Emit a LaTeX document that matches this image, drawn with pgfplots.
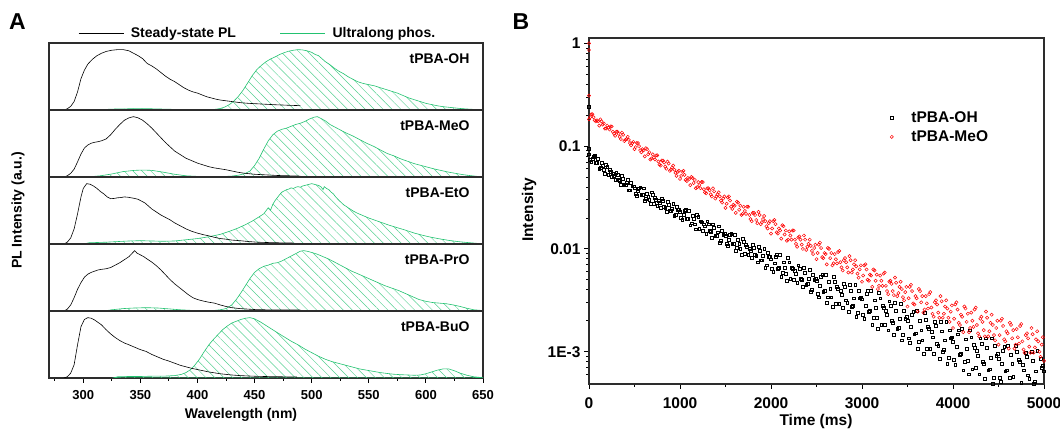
\documentclass[border=0pt]{standalone}
\usepackage{fontspec}
\setmainfont{Liberation Sans}
\usepackage{pgfplots}
\pgfplotsset{compat=1.18}
\usetikzlibrary{patterns.meta}
\definecolor{phos}{RGB}{34,194,112}
\definecolor{phoshatch}{RGB}{85,208,145}
\definecolor{frame}{RGB}{45,45,45}
\newcommand{\lf}{\fontsize{14}{16}\selectfont\bfseries}
\newcommand{\rf}{\fontsize{15.5}{18}\selectfont\bfseries}
\tikzset{plab/.style={anchor=east, font=\lf}}
\pgfplotsset{
  apanel/.style={
    scale only axis, width=434pt, height=67pt, anchor=south west,
    xmin=270, xmax=650, ymin=0, ymax=1.11,
    axis line style={line width=1.1pt, frame},
    xtick=\empty, ytick=\empty,
  },
  bl/.style={black, line width=0.6pt, forget plot},
  gr/.style={draw=phos, line width=0.6pt, pattern={Lines[angle=-45,distance=6.3pt,line width=0.45pt]}, pattern color=phoshatch, forget plot},
  bsq/.style={only marks, mark=square, mark size=1.4pt, black, mark options={line width=0.5pt}},
  rci/.style={only marks, mark=o, mark size=1.6pt, red, mark options={line width=0.5pt}},
}
\begin{document}
\begin{tikzpicture}
\path[use as bounding box] (0,0) rectangle (1060pt,430pt);
% ---------------- Panel A ----------------
\begin{axis}[apanel, at={(49pt,320pt)},
  legend columns=2,
  legend style={at={(0.067,1.0)}, anchor=south west, draw=none, fill=none, inner sep=0pt, yshift=2pt, font=\lf,
    /tikz/every even column/.append style={column sep=42pt},
    /tikz/every odd column/.append style={column sep=5pt}},
  legend image code/.code={\draw[#1] (0pt,0pt) -- (45pt,0pt);}]
\addlegendimage{black, line width=0.6pt}
\addlegendentry{Steady-state PL}
\addlegendimage{phos, line width=0.6pt}
\addlegendentry{Ultralong phos.}
\addplot[gr] coordinates {(313,0)(320,0.01)(330,0.018)(340,0.02)(350,0.022)(360,0.02)(370,0.015)(380,0.01)(390,0.006)(400,0.004)(410,0.006)(416,0.012)(420,0.025)(424,0.05)(428,0.09)(432,0.15)(436,0.23)(440,0.33)(444,0.45)(448,0.57)(452,0.67)(456,0.74)(460,0.8)(464,0.845)(468,0.88)(472,0.92)(476,0.95)(480,0.975)(484,0.99)(488,1.0)(492,0.995)(496,0.98)(500,0.955)(503,0.92)(506,0.9)(509,0.85)(512,0.8)(516,0.75)(520,0.69)(524,0.64)(528,0.6)(532,0.55)(536,0.51)(540,0.47)(545,0.44)(550,0.42)(555,0.4)(560,0.37)(565,0.34)(570,0.31)(575,0.28)(580,0.24)(585,0.2)(590,0.17)(595,0.14)(600,0.11)(605,0.09)(610,0.07)(615,0.055)(620,0.045)(625,0.035)(630,0.025)(635,0.018)(640,0.012)(645,0.008)(650,0.005)} \closedcycle;
\addplot[bl] coordinates {(283,0)(286,0.02)(289,0.06)(292,0.14)(295,0.3)(298,0.52)(301,0.66)(304,0.76)(308,0.84)(312,0.9)(316,0.94)(320,0.97)(325,0.99)(330,1.0)(335,1.0)(340,0.98)(344,0.94)(348,0.9)(352,0.85)(356,0.77)(360,0.73)(364,0.68)(368,0.62)(372,0.56)(376,0.51)(380,0.47)(384,0.42)(388,0.37)(392,0.33)(396,0.3)(400,0.28)(404,0.25)(408,0.22)(412,0.2)(416,0.18)(420,0.165)(424,0.155)(428,0.145)(432,0.135)(436,0.125)(440,0.117)(445,0.11)(450,0.105)(455,0.1)(460,0.095)(465,0.09)(470,0.085)(475,0.082)(480,0.078)(485,0.075)(490,0.072)};
\node[plab] at (rel axis cs:0.977,0.76) {tPBA-OH};
\end{axis}
\begin{axis}[apanel, at={(49pt,253pt)}]
\addplot[gr] coordinates {(303,0)(315,0.02)(325,0.05)(335,0.09)(345,0.11)(352,0.115)(360,0.11)(370,0.08)(380,0.045)(390,0.02)(400,0.01)(410,0.005)(420,0.005)(430,0.015)(436,0.03)(442,0.06)(446,0.1)(450,0.19)(454,0.31)(458,0.46)(462,0.6)(466,0.7)(470,0.76)(474,0.79)(478,0.81)(482,0.84)(486,0.87)(490,0.89)(494,0.92)(498,0.96)(502,0.99)(505,1.0)(508,0.97)(512,0.93)(516,0.87)(520,0.83)(525,0.78)(530,0.73)(536,0.68)(542,0.62)(548,0.56)(554,0.51)(560,0.45)(566,0.39)(572,0.35)(578,0.3)(584,0.26)(590,0.22)(596,0.19)(602,0.16)(608,0.13)(614,0.105)(620,0.08)(626,0.06)(632,0.04)(638,0.025)(644,0.012)(650,0.005)} \closedcycle;
\addplot[bl] coordinates {(283,0)(286,0.02)(289,0.06)(292,0.13)(295,0.25)(298,0.38)(301,0.48)(304,0.53)(307,0.56)(310,0.575)(313,0.585)(316,0.6)(320,0.63)(324,0.7)(328,0.79)(332,0.87)(336,0.94)(340,0.98)(344,1.0)(348,0.98)(352,0.94)(356,0.88)(360,0.81)(364,0.73)(368,0.65)(372,0.57)(376,0.5)(380,0.43)(385,0.37)(390,0.31)(395,0.27)(400,0.23)(405,0.2)(410,0.17)(415,0.15)(420,0.135)(425,0.12)(430,0.1)(435,0.08)(440,0.065)(445,0.055)(450,0.045)(460,0.035)(470,0.025)(480,0.02)(490,0.015)};
\node[plab] at (rel axis cs:0.977,0.76) {tPBA-MeO};
\end{axis}
\begin{axis}[apanel, at={(49pt,186pt)}]
\addplot[gr] coordinates {(300,0)(305,0.02)(320,0.03)(330,0.04)(340,0.05)(350,0.055)(360,0.05)(370,0.045)(380,0.05)(390,0.07)(400,0.09)(410,0.12)(420,0.16)(428,0.21)(435,0.26)(442,0.32)(448,0.38)(454,0.45)(458,0.5)(462,0.6)(464,0.56)(466,0.66)(468,0.72)(470,0.77)(472,0.82)(474,0.86)(476,0.88)(478,0.9)(480,0.91)(482,0.93)(484,0.92)(486,0.94)(488,0.95)(490,0.94)(492,0.96)(494,0.97)(496,0.98)(498,0.99)(500,1.0)(502,0.99)(504,0.98)(506,0.97)(508,0.95)(510,0.9)(511,0.95)(513,0.92)(515,0.9)(517,0.86)(519,0.83)(521,0.78)(524,0.72)(528,0.65)(532,0.6)(536,0.55)(540,0.51)(545,0.47)(550,0.43)(556,0.39)(562,0.35)(568,0.31)(575,0.27)(582,0.23)(590,0.18)(598,0.14)(605,0.11)(612,0.085)(620,0.06)(628,0.04)(636,0.025)(644,0.012)(650,0.006)} \closedcycle;
\addplot[bl] coordinates {(283,0)(286,0.03)(289,0.1)(292,0.25)(295,0.5)(298,0.78)(300,0.92)(303,1.0)(306,0.99)(309,0.96)(312,0.92)(315,0.87)(318,0.83)(321,0.78)(324,0.75)(327,0.755)(330,0.765)(333,0.77)(336,0.78)(339,0.775)(342,0.765)(345,0.755)(348,0.74)(351,0.71)(354,0.68)(357,0.63)(360,0.58)(364,0.53)(368,0.48)(372,0.44)(376,0.4)(380,0.35)(385,0.3)(390,0.25)(395,0.21)(400,0.18)(405,0.155)(410,0.135)(415,0.11)(420,0.09)(425,0.08)(430,0.065)(437,0.055)(445,0.04)(452,0.03)(460,0.025)(470,0.02)(484,0.017)};
\node[plab] at (rel axis cs:0.977,0.76) {tPBA-EtO};
\end{axis}
\begin{axis}[apanel, at={(49pt,119pt)}]
\addplot[gr] coordinates {(318,0)(325,0.02)(335,0.04)(345,0.05)(355,0.055)(365,0.05)(375,0.035)(385,0.02)(395,0.01)(405,0.008)(415,0.01)(420,0.02)(425,0.04)(430,0.1)(434,0.19)(438,0.3)(442,0.42)(446,0.54)(450,0.64)(454,0.7)(458,0.74)(462,0.76)(466,0.79)(470,0.8)(474,0.83)(478,0.87)(482,0.91)(486,0.95)(490,0.99)(493,1.0)(496,0.99)(500,0.97)(505,0.94)(510,0.9)(515,0.86)(520,0.81)(525,0.76)(530,0.71)(535,0.66)(540,0.62)(546,0.57)(552,0.52)(558,0.47)(564,0.42)(570,0.38)(576,0.34)(582,0.29)(588,0.24)(594,0.19)(600,0.16)(606,0.14)(612,0.13)(618,0.12)(624,0.1)(630,0.075)(636,0.045)(642,0.02)(650,0.008)} \closedcycle;
\addplot[bl] coordinates {(283,0)(286,0.03)(289,0.1)(292,0.22)(295,0.36)(298,0.47)(301,0.56)(304,0.61)(307,0.64)(310,0.66)(313,0.68)(316,0.69)(320,0.7)(324,0.72)(328,0.76)(332,0.8)(336,0.85)(340,0.9)(343,0.96)(345,1.0)(347,0.96)(350,0.93)(353,0.9)(356,0.86)(360,0.81)(364,0.75)(368,0.68)(372,0.6)(376,0.52)(380,0.45)(384,0.39)(388,0.33)(392,0.27)(396,0.22)(400,0.19)(405,0.165)(410,0.145)(415,0.13)(420,0.1)(425,0.075)(430,0.055)(437,0.04)(445,0.03)(452,0.022)(465,0.018)(490,0.017)};
\node[plab] at (rel axis cs:0.977,0.76) {tPBA-PrO};
\end{axis}
\begin{axis}[apanel, at={(49pt,52pt)},
  xtick={300,350,...,650}, minor xtick={275,325,...,625},
  tick align=outside, xtick pos=left,
  major tick length=5pt, minor tick length=3pt,
  every tick/.style={black, line width=0.9pt},
  /pgf/number format/assume math mode=true,
  tick label style={font=\fontsize{13}{15}\selectfont\bfseries},
  xticklabel style={yshift=-4pt}]
\addplot[gr] coordinates {(326,0)(330,0.02)(340,0.025)(350,0.025)(360,0.03)(370,0.03)(380,0.04)(386,0.06)(390,0.09)(394,0.14)(398,0.22)(402,0.32)(406,0.44)(410,0.55)(414,0.64)(418,0.72)(422,0.8)(426,0.86)(430,0.91)(434,0.94)(438,0.97)(442,0.99)(446,1.0)(450,0.98)(455,0.93)(460,0.87)(465,0.81)(470,0.75)(476,0.68)(482,0.61)(488,0.55)(494,0.48)(500,0.42)(506,0.36)(512,0.31)(518,0.27)(524,0.24)(530,0.21)(536,0.18)(542,0.15)(548,0.13)(554,0.11)(560,0.09)(566,0.075)(572,0.062)(578,0.055)(584,0.05)(590,0.045)(595,0.05)(600,0.07)(605,0.1)(610,0.13)(615,0.15)(620,0.15)(625,0.12)(630,0.08)(636,0.045)(642,0.02)(650,0.005)} \closedcycle;
\addplot[bl] coordinates {(283,0)(286,0.02)(289,0.08)(292,0.22)(295,0.55)(298,0.85)(301,0.97)(304,1.0)(307,0.99)(310,0.96)(313,0.92)(316,0.88)(320,0.8)(324,0.73)(328,0.67)(332,0.62)(336,0.58)(340,0.55)(345,0.51)(350,0.47)(355,0.44)(360,0.39)(365,0.35)(370,0.31)(375,0.28)(380,0.245)(385,0.21)(390,0.185)(395,0.16)(400,0.14)(405,0.12)(410,0.1)(415,0.085)(420,0.07)(425,0.06)(430,0.05)(437,0.04)(445,0.033)(452,0.028)(465,0.022)(487,0.017)};
\node[plab] at (rel axis cs:0.977,0.76) {tPBA-BuO};
\end{axis}
\node[rotate=90, font=\lf] at (18pt,219.5pt) {PL Intensity (a.u.)};
\node[font=\lf] at (241pt,15pt) {Wavelength (nm)};
\node[font=\fontsize{23}{26}\selectfont\bfseries] at (17.5pt,408.5pt) {A};
\node[font=\fontsize{23}{26}\selectfont\bfseries] at (521pt,408.5pt) {B};
% ---------------- Panel B ----------------
\begin{axis}[at={(589pt,46pt)}, anchor=south west, scale only axis, width=455pt, height=346pt,
  xmin=0, xmax=5000, ymode=log, ymin=4.85e-4, ymax=1.126,
  xtick={0,1000,...,5000}, minor xtick={500,1500,...,4500},
  ytick={1,0.1,0.01,0.001}, yticklabels={1,0.1,0.01,1E-3},
  minor ytick={6e-4,7e-4,8e-4,9e-4,2e-3,3e-3,4e-3,5e-3,6e-3,7e-3,8e-3,9e-3,2e-2,3e-2,4e-2,5e-2,6e-2,7e-2,8e-2,9e-2,0.2,0.3,0.4,0.5,0.6,0.7,0.8,0.9},
  tick align=outside, xtick pos=left, ytick pos=left,
  major tick length=5pt, minor tick length=3pt,
  every tick/.style={black, line width=0.9pt},
  axis line style={line width=1.1pt, frame},
  /pgf/number format/assume math mode=true, /pgf/number format/1000 sep={},
  tick label style={font=\rf},
  xticklabel style={yshift=-5pt},
  legend style={at={(0.655,0.80)}, anchor=north west, draw=none, fill=none, font=\rf, row sep=3pt,
    /tikz/every odd column/.append style={column sep=16pt}},
  legend image code/.code={\draw[#1] plot coordinates {(0pt,0pt)};},
  legend cell align=left]
\addplot[bsq] coordinates {(0,0.24)(0,0.095)(0,8.32e-2)(25,7.08e-2)(50,7.94e-2)(75,6.92e-2)(100,7.59e-2)(125,6.17e-2)(150,6.46e-2)(175,5.37e-2)(200,6.31e-2)(225,5.89e-2)(250,5.01e-2)(275,5.13e-2)(300,5.50e-2)(325,4.68e-2)(350,4.17e-2)(375,4.79e-2)(400,4.17e-2)(425,4.68e-2)(450,3.72e-2)(475,4.07e-2)(500,3.89e-2)(525,3.31e-2)(550,3.89e-2)(575,3.39e-2)(600,3.89e-2)(625,3.09e-2)(650,3.24e-2)(675,2.75e-2)(700,3.39e-2)(725,3.16e-2)(750,2.63e-2)(775,2.82e-2)(800,3.09e-2)(825,2.57e-2)(850,2.29e-2)(875,2.69e-2)(900,2.34e-2)(925,2.75e-2)(950,2.14e-2)(975,2.40e-2)(1000,2.29e-2)(1025,1.91e-2)(1050,2.34e-2)(1075,1.95e-2)(1100,2.34e-2)(1125,1.78e-2)(1150,1.95e-2)(1175,1.55e-2)(1200,2.04e-2)(1225,1.86e-2)(1250,1.51e-2)(1275,1.66e-2)(1300,1.86e-2)(1325,1.51e-2)(1350,1.29e-2)(1375,1.62e-2)(1400,1.35e-2)(1425,1.66e-2)(1450,1.20e-2)(1475,1.38e-2)(1500,1.35e-2)(1525,1.07e-2)(1550,1.38e-2)(1575,1.12e-2)(1600,1.38e-2)(1625,1.02e-2)(1650,1.12e-2)(1675,8.71e-3)(1700,1.17e-2)(1725,1.10e-2)(1750,8.71e-3)(1775,9.55e-3)(1800,1.10e-2)(1825,8.71e-3)(1850,7.41e-3)(1875,9.55e-3)(1900,7.76e-3)(1925,1.00e-2)(1950,6.92e-3)(1975,8.32e-3)(2000,7.94e-3)(2025,6.03e-3)(2050,8.32e-3)(2075,6.46e-3)(2100,8.71e-3)(2125,5.89e-3)(2150,6.61e-3)(2175,4.90e-3)(2200,7.41e-3)(2225,6.61e-3)(2250,5.01e-3)(2275,5.75e-3)(2300,6.92e-3)(2325,5.13e-3)(2350,4.27e-3)(2375,5.89e-3)(2400,4.57e-3)(2425,6.31e-3)(2450,3.98e-3)(2475,5.01e-3)(2500,4.90e-3)(2525,3.39e-3)(2550,5.37e-3)(2575,3.80e-3)(2600,5.62e-3)(2625,3.39e-3)(2650,4.07e-3)(2675,2.75e-3)(2700,4.79e-3)(2725,4.27e-3)(2750,2.95e-3)(2775,3.55e-3)(2800,4.57e-3)(2825,3.16e-3)(2850,2.45e-3)(2875,3.89e-3)(2900,2.82e-3)(2925,4.47e-3)(2950,2.40e-3)(2975,3.31e-3)(3000,3.24e-3)(3025,2.09e-3)(3050,3.63e-3)(3075,2.45e-3)(3100,3.89e-3)(3125,2.14e-3)(3150,2.69e-3)(3175,1.66e-3)(3200,3.31e-3)(3225,2.82e-3)(3250,1.82e-3)(3275,2.29e-3)(3300,3.09e-3)(3325,2.00e-3)(3350,1.45e-3)(3375,2.51e-3)(3400,1.70e-3)(3425,2.95e-3)(3450,1.45e-3)(3475,2.09e-3)(3500,2.00e-3)(3525,1.23e-3)(3550,2.29e-3)(3575,1.48e-3)(3600,2.51e-3)(3625,1.26e-3)(3650,1.62e-3)(3675,9.55e-4)(3700,2.04e-3)(3725,1.74e-3)(3750,1.07e-3)(3775,1.38e-3)(3800,1.95e-3)(3825,1.20e-3)(3850,8.51e-4)(3875,1.58e-3)(3900,1.05e-3)(3925,1.95e-3)(3950,8.71e-4)(3975,1.35e-3)(4000,1.26e-3)(4025,7.41e-4)(4050,1.48e-3)(4075,9.33e-4)(4100,1.66e-3)(4125,7.94e-4)(4150,1.07e-3)(4175,6.03e-4)(4200,1.38e-3)(4225,1.17e-3)(4250,6.92e-4)(4275,9.12e-4)(4300,1.35e-3)(4325,7.94e-4)(4350,5.50e-4)(4375,1.10e-3)(4400,6.76e-4)(4425,1.35e-3)(4450,5.62e-4)(4475,9.12e-4)(4500,8.51e-4)(4525,5.13e-4)(4550,1.02e-3)(4575,6.46e-4)(4600,1.15e-3)(4625,5.62e-4)(4650,7.59e-4)(4675,4.25e-4)(4700,1.00e-3)(4725,8.32e-4)(4750,5.01e-4)(4775,6.61e-4)(4800,9.77e-4)(4825,5.89e-4)(4850,4.06e-4)(4875,8.13e-4)(4900,5.13e-4)(4925,1.02e-3)(4950,4.25e-4)(4975,6.92e-4)(5000,6.46e-4)};
\addlegendentry{tPBA-OH}
\addplot[bsq, forget plot] coordinates {(12.5,7.41e-2)(37.5,7.59e-2)(62.5,8.13e-2)(87.5,6.92e-2)(112.5,6.03e-2)(137.5,6.92e-2)(162.5,5.89e-2)(187.5,6.61e-2)(212.5,5.25e-2)(237.5,5.62e-2)(262.5,5.37e-2)(287.5,4.68e-2)(312.5,5.25e-2)(337.5,4.57e-2)(362.5,5.13e-2)(387.5,4.17e-2)(412.5,4.37e-2)(437.5,3.72e-2)(462.5,4.37e-2)(487.5,4.07e-2)(512.5,3.47e-2)(537.5,3.63e-2)(562.5,3.98e-2)(587.5,3.39e-2)(612.5,2.95e-2)(637.5,3.47e-2)(662.5,3.02e-2)(687.5,3.55e-2)(712.5,2.75e-2)(737.5,3.02e-2)(762.5,2.95e-2)(787.5,2.51e-2)(812.5,2.95e-2)(837.5,2.51e-2)(862.5,2.88e-2)(887.5,2.34e-2)(912.5,2.45e-2)(937.5,2.09e-2)(962.5,2.57e-2)(987.5,2.40e-2)(1012.5,2.00e-2)(1037.5,2.14e-2)(1062.5,2.40e-2)(1087.5,1.95e-2)(1112.5,1.70e-2)(1137.5,2.09e-2)(1162.5,1.74e-2)(1187.5,2.14e-2)(1212.5,1.58e-2)(1237.5,1.82e-2)(1262.5,1.74e-2)(1287.5,1.41e-2)(1312.5,1.74e-2)(1337.5,1.48e-2)(1362.5,1.74e-2)(1387.5,1.35e-2)(1412.5,1.45e-2)(1437.5,1.15e-2)(1462.5,1.51e-2)(1487.5,1.41e-2)(1512.5,1.12e-2)(1537.5,1.23e-2)(1562.5,1.41e-2)(1587.5,1.12e-2)(1612.5,9.55e-3)(1637.5,1.23e-2)(1662.5,1.00e-2)(1687.5,1.26e-2)(1712.5,8.91e-3)(1737.5,1.05e-2)(1762.5,1.00e-2)(1787.5,8.13e-3)(1812.5,1.02e-2)(1837.5,8.51e-3)(1862.5,1.05e-2)(1887.5,7.76e-3)(1912.5,8.51e-3)(1937.5,6.61e-3)(1962.5,9.12e-3)(1987.5,8.32e-3)(2012.5,6.46e-3)(2037.5,7.24e-3)(2062.5,8.71e-3)(2087.5,6.61e-3)(2112.5,5.37e-3)(2137.5,7.41e-3)(2162.5,5.75e-3)(2187.5,8.13e-3)(2212.5,5.13e-3)(2237.5,6.46e-3)(2262.5,6.17e-3)(2287.5,4.68e-3)(2312.5,6.46e-3)(2337.5,5.01e-3)(2362.5,6.61e-3)(2387.5,4.47e-3)(2412.5,5.13e-3)(2437.5,3.80e-3)(2462.5,5.62e-3)(2487.5,5.13e-3)(2512.5,3.63e-3)(2537.5,4.37e-3)(2562.5,5.62e-3)(2587.5,3.89e-3)(2612.5,3.02e-3)(2637.5,4.79e-3)(2662.5,3.39e-3)(2687.5,5.37e-3)(2712.5,2.95e-3)(2737.5,4.07e-3)(2762.5,3.89e-3)(2787.5,2.69e-3)(2812.5,4.27e-3)(2837.5,3.02e-3)(2862.5,4.47e-3)(2887.5,2.75e-3)(2912.5,3.31e-3)(2937.5,2.19e-3)(2962.5,3.89e-3)(2987.5,3.39e-3)(3012.5,2.29e-3)(3037.5,2.82e-3)(3062.5,3.89e-3)(3087.5,2.51e-3)(3112.5,1.82e-3)(3137.5,3.16e-3)(3162.5,2.14e-3)(3187.5,3.72e-3)(3212.5,1.82e-3)(3237.5,2.69e-3)(3262.5,2.51e-3)(3287.5,1.62e-3)(3312.5,2.82e-3)(3337.5,1.91e-3)(3362.5,3.02e-3)(3387.5,1.66e-3)(3412.5,2.09e-3)(3437.5,1.29e-3)(3462.5,2.51e-3)(3487.5,2.19e-3)(3512.5,1.35e-3)(3537.5,1.74e-3)(3562.5,2.45e-3)(3587.5,1.51e-3)(3612.5,1.07e-3)(3637.5,2.00e-3)(3662.5,1.29e-3)(3687.5,2.40e-3)(3712.5,1.07e-3)(3737.5,1.66e-3)(3762.5,1.55e-3)(3787.5,9.55e-4)(3812.5,1.78e-3)(3837.5,1.15e-3)(3862.5,1.95e-3)(3887.5,1.00e-3)(3912.5,1.29e-3)(3937.5,7.59e-4)(3962.5,1.62e-3)(3987.5,1.38e-3)(4012.5,8.32e-4)(4037.5,1.12e-3)(4062.5,1.62e-3)(4087.5,9.55e-4)(4112.5,6.61e-4)(4137.5,1.32e-3)(4162.5,8.13e-4)(4187.5,1.62e-3)(4212.5,6.76e-4)(4237.5,1.10e-3)(4262.5,1.02e-3)(4287.5,6.03e-4)(4312.5,1.20e-3)(4337.5,7.59e-4)(4362.5,1.35e-3)(4387.5,6.61e-4)(4412.5,8.71e-4)(4437.5,4.90e-4)(4462.5,1.15e-3)(4487.5,9.55e-4)(4512.5,5.62e-4)(4537.5,7.59e-4)(4562.5,1.12e-3)(4587.5,6.61e-4)(4612.5,4.62e-4)(4637.5,9.33e-4)(4662.5,5.75e-4)(4687.5,1.15e-3)(4712.5,4.84e-4)(4737.5,7.94e-4)(4762.5,7.41e-4)(4787.5,4.42e-4)(4812.5,8.91e-4)(4837.5,5.50e-4)(4862.5,1.00e-3)(4887.5,4.86e-4)(4912.5,6.46e-4)(4937.5,3.67e-4)(4962.5,8.51e-4)(4987.5,7.24e-4)};
\addplot[rci] coordinates {(0,1.0)(0,0.86)(0,0.31)(0,1.82e-1)(25,2.04e-1)(50,1.91e-1)(75,1.74e-1)(100,1.74e-1)(125,1.82e-1)(150,1.62e-1)(175,1.48e-1)(200,1.58e-1)(225,1.45e-1)(250,1.55e-1)(275,1.32e-1)(300,1.38e-1)(325,1.32e-1)(350,1.17e-1)(375,1.29e-1)(400,1.15e-1)(425,1.23e-1)(450,1.07e-1)(475,1.07e-1)(500,9.33e-2)(525,1.07e-1)(550,1.00e-1)(575,8.71e-2)(600,9.12e-2)(625,9.55e-2)(650,8.32e-2)(675,7.41e-2)(700,8.32e-2)(725,7.41e-2)(750,8.13e-2)(775,6.61e-2)(800,7.24e-2)(825,6.92e-2)(850,6.03e-2)(875,6.76e-2)(900,5.89e-2)(925,6.46e-2)(950,5.50e-2)(975,5.62e-2)(1000,4.79e-2)(1025,5.62e-2)(1050,5.25e-2)(1075,4.57e-2)(1100,4.79e-2)(1125,5.01e-2)(1150,4.37e-2)(1175,3.89e-2)(1200,4.47e-2)(1225,3.89e-2)(1250,4.47e-2)(1275,3.55e-2)(1300,3.89e-2)(1325,3.72e-2)(1350,3.24e-2)(1375,3.63e-2)(1400,3.24e-2)(1425,3.55e-2)(1450,2.95e-2)(1475,3.09e-2)(1500,2.51e-2)(1525,3.16e-2)(1550,2.95e-2)(1575,2.45e-2)(1600,2.63e-2)(1625,2.88e-2)(1650,2.40e-2)(1675,2.14e-2)(1700,2.57e-2)(1725,2.19e-2)(1750,2.57e-2)(1775,1.95e-2)(1800,2.24e-2)(1825,2.14e-2)(1850,1.78e-2)(1875,2.14e-2)(1900,1.82e-2)(1925,2.09e-2)(1950,1.66e-2)(1975,1.78e-2)(2000,1.41e-2)(2025,1.86e-2)(2050,1.74e-2)(2075,1.41e-2)(2100,1.51e-2)(2125,1.70e-2)(2150,1.38e-2)(2175,1.20e-2)(2200,1.48e-2)(2225,1.23e-2)(2250,1.51e-2)(2275,1.12e-2)(2300,1.29e-2)(2325,1.23e-2)(2350,1.00e-2)(2375,1.23e-2)(2400,1.05e-2)(2425,1.23e-2)(2450,9.55e-3)(2475,1.02e-2)(2500,7.94e-3)(2525,1.10e-2)(2550,1.02e-2)(2575,8.13e-3)(2600,8.91e-3)(2625,1.02e-2)(2650,8.13e-3)(2675,6.92e-3)(2700,8.91e-3)(2725,7.24e-3)(2750,9.55e-3)(2775,6.61e-3)(2800,7.76e-3)(2825,7.41e-3)(2850,5.89e-3)(2875,7.76e-3)(2900,6.31e-3)(2925,7.76e-3)(2950,5.75e-3)(2975,6.31e-3)(3000,4.79e-3)(3025,6.92e-3)(3050,6.31e-3)(3075,4.90e-3)(3100,5.50e-3)(3125,6.31e-3)(3150,4.90e-3)(3175,4.07e-3)(3200,5.50e-3)(3225,4.37e-3)(3250,5.89e-3)(3275,3.89e-3)(3300,4.79e-3)(3325,4.57e-3)(3350,3.55e-3)(3375,4.68e-3)(3400,3.72e-3)(3425,4.79e-3)(3450,3.39e-3)(3475,3.80e-3)(3500,2.75e-3)(3525,4.27e-3)(3550,3.89e-3)(3575,2.88e-3)(3600,3.31e-3)(3625,4.07e-3)(3650,3.02e-3)(3675,2.40e-3)(3700,3.47e-3)(3725,2.63e-3)(3750,3.80e-3)(3775,2.34e-3)(3800,3.02e-3)(3825,2.88e-3)(3850,2.14e-3)(3875,3.09e-3)(3900,2.34e-3)(3925,3.16e-3)(3950,2.14e-3)(3975,2.45e-3)(4000,1.70e-3)(4025,2.88e-3)(4050,2.57e-3)(4075,1.82e-3)(4100,2.19e-3)(4125,2.75e-3)(4150,1.95e-3)(4175,1.55e-3)(4200,2.40e-3)(4225,1.74e-3)(4250,2.69e-3)(4275,1.51e-3)(4300,2.09e-3)(4325,1.95e-3)(4350,1.41e-3)(4375,2.14e-3)(4400,1.58e-3)(4425,2.29e-3)(4450,1.45e-3)(4475,1.70e-3)(4500,1.17e-3)(4525,2.00e-3)(4550,1.78e-3)(4575,1.26e-3)(4600,1.51e-3)(4625,1.91e-3)(4650,1.35e-3)(4675,1.07e-3)(4700,1.66e-3)(4725,1.20e-3)(4750,1.86e-3)(4775,1.05e-3)(4800,1.45e-3)(4825,1.35e-3)(4850,9.77e-4)(4875,1.48e-3)(4900,1.10e-3)(4925,1.58e-3)(4950,1.00e-3)(4975,1.17e-3)(5000,8.13e-4)};
\addlegendentry{tPBA-MeO}
\addplot[rci, forget plot] coordinates {(12.5,1.91e-1)(37.5,2.04e-1)(62.5,1.78e-1)(87.5,1.78e-1)(112.5,1.58e-1)(137.5,1.74e-1)(162.5,1.66e-1)(187.5,1.48e-1)(212.5,1.51e-1)(237.5,1.55e-1)(262.5,1.38e-1)(287.5,1.26e-1)(312.5,1.38e-1)(337.5,1.23e-1)(362.5,1.35e-1)(387.5,1.12e-1)(412.5,1.17e-1)(437.5,1.15e-1)(462.5,1.02e-1)(487.5,1.10e-1)(512.5,9.77e-2)(537.5,1.07e-1)(562.5,9.12e-2)(587.5,9.33e-2)(612.5,7.94e-2)(637.5,9.33e-2)(662.5,8.71e-2)(687.5,7.59e-2)(712.5,7.76e-2)(737.5,8.13e-2)(762.5,7.08e-2)(787.5,6.46e-2)(812.5,7.24e-2)(837.5,6.31e-2)(862.5,7.08e-2)(887.5,5.75e-2)(912.5,6.17e-2)(937.5,5.89e-2)(962.5,5.13e-2)(987.5,5.75e-2)(1012.5,5.13e-2)(1037.5,5.75e-2)(1062.5,4.68e-2)(1087.5,4.90e-2)(1112.5,4.17e-2)(1137.5,4.90e-2)(1162.5,4.68e-2)(1187.5,3.98e-2)(1212.5,4.17e-2)(1237.5,4.47e-2)(1262.5,3.80e-2)(1287.5,3.47e-2)(1312.5,3.89e-2)(1337.5,3.39e-2)(1362.5,3.89e-2)(1387.5,3.09e-2)(1412.5,3.39e-2)(1437.5,3.24e-2)(1462.5,2.82e-2)(1487.5,3.24e-2)(1512.5,2.75e-2)(1537.5,3.24e-2)(1562.5,2.57e-2)(1587.5,2.69e-2)(1612.5,2.24e-2)(1637.5,2.82e-2)(1662.5,2.63e-2)(1687.5,2.19e-2)(1712.5,2.34e-2)(1737.5,2.57e-2)(1762.5,2.14e-2)(1787.5,1.86e-2)(1812.5,2.24e-2)(1837.5,1.91e-2)(1862.5,2.29e-2)(1887.5,1.74e-2)(1912.5,1.95e-2)(1937.5,1.86e-2)(1962.5,1.58e-2)(1987.5,1.86e-2)(2012.5,1.58e-2)(2037.5,1.91e-2)(2062.5,1.45e-2)(2087.5,1.58e-2)(2112.5,1.26e-2)(2137.5,1.66e-2)(2162.5,1.51e-2)(2187.5,1.23e-2)(2212.5,1.35e-2)(2237.5,1.51e-2)(2262.5,1.23e-2)(2287.5,1.05e-2)(2312.5,1.32e-2)(2337.5,1.10e-2)(2362.5,1.35e-2)(2387.5,9.77e-3)(2412.5,1.12e-2)(2437.5,1.07e-2)(2462.5,8.91e-3)(2487.5,1.10e-2)(2512.5,9.12e-3)(2537.5,1.15e-2)(2562.5,8.32e-3)(2587.5,9.12e-3)(2612.5,7.08e-3)(2637.5,1.00e-2)(2662.5,9.12e-3)(2687.5,7.24e-3)(2712.5,7.94e-3)(2737.5,9.33e-3)(2762.5,7.41e-3)(2787.5,6.17e-3)(2812.5,8.13e-3)(2837.5,6.61e-3)(2862.5,8.51e-3)(2887.5,5.89e-3)(2912.5,7.08e-3)(2937.5,6.76e-3)(2962.5,5.25e-3)(2987.5,6.92e-3)(3012.5,5.50e-3)(3037.5,7.08e-3)(3062.5,5.01e-3)(3087.5,5.62e-3)(3112.5,4.27e-3)(3137.5,6.17e-3)(3162.5,5.62e-3)(3187.5,4.37e-3)(3212.5,4.90e-3)(3237.5,5.75e-3)(3262.5,4.37e-3)(3287.5,3.63e-3)(3312.5,4.90e-3)(3337.5,3.89e-3)(3362.5,5.25e-3)(3387.5,3.47e-3)(3412.5,4.27e-3)(3437.5,4.07e-3)(3462.5,3.16e-3)(3487.5,4.27e-3)(3512.5,3.31e-3)(3537.5,4.47e-3)(3562.5,2.95e-3)(3587.5,3.47e-3)(3612.5,2.45e-3)(3637.5,3.89e-3)(3662.5,3.47e-3)(3687.5,2.57e-3)(3712.5,2.95e-3)(3737.5,3.63e-3)(3762.5,2.69e-3)(3787.5,2.19e-3)(3812.5,3.16e-3)(3837.5,2.40e-3)(3862.5,3.47e-3)(3887.5,2.14e-3)(3912.5,2.75e-3)(3937.5,2.63e-3)(3962.5,1.95e-3)(3987.5,2.82e-3)(4012.5,2.09e-3)(4037.5,3.02e-3)(4062.5,1.91e-3)(4087.5,2.29e-3)(4112.5,1.55e-3)(4137.5,2.63e-3)(4162.5,2.34e-3)(4187.5,1.70e-3)(4212.5,2.00e-3)(4237.5,2.57e-3)(4262.5,1.82e-3)(4287.5,1.41e-3)(4312.5,2.19e-3)(4337.5,1.62e-3)(4362.5,2.45e-3)(4387.5,1.41e-3)(4412.5,1.91e-3)(4437.5,1.82e-3)(4462.5,1.29e-3)(4487.5,2.00e-3)(4512.5,1.45e-3)(4537.5,2.09e-3)(4562.5,1.32e-3)(4587.5,1.58e-3)(4612.5,1.07e-3)(4637.5,1.82e-3)(4662.5,1.62e-3)(4687.5,1.17e-3)(4712.5,1.38e-3)(4737.5,1.78e-3)(4762.5,1.26e-3)(4787.5,9.77e-4)(4812.5,1.51e-3)(4837.5,1.12e-3)(4862.5,1.70e-3)(4887.5,9.77e-4)(4912.5,1.32e-3)(4937.5,1.26e-3)(4962.5,8.91e-4)(4987.5,1.38e-3)};
\end{axis}
\node[rotate=90, font=\rf] at (529pt,220pt) {Intensity};
\node[font=\rf] at (816pt,9pt) {Time (ms)};
\end{tikzpicture}
\end{document}
